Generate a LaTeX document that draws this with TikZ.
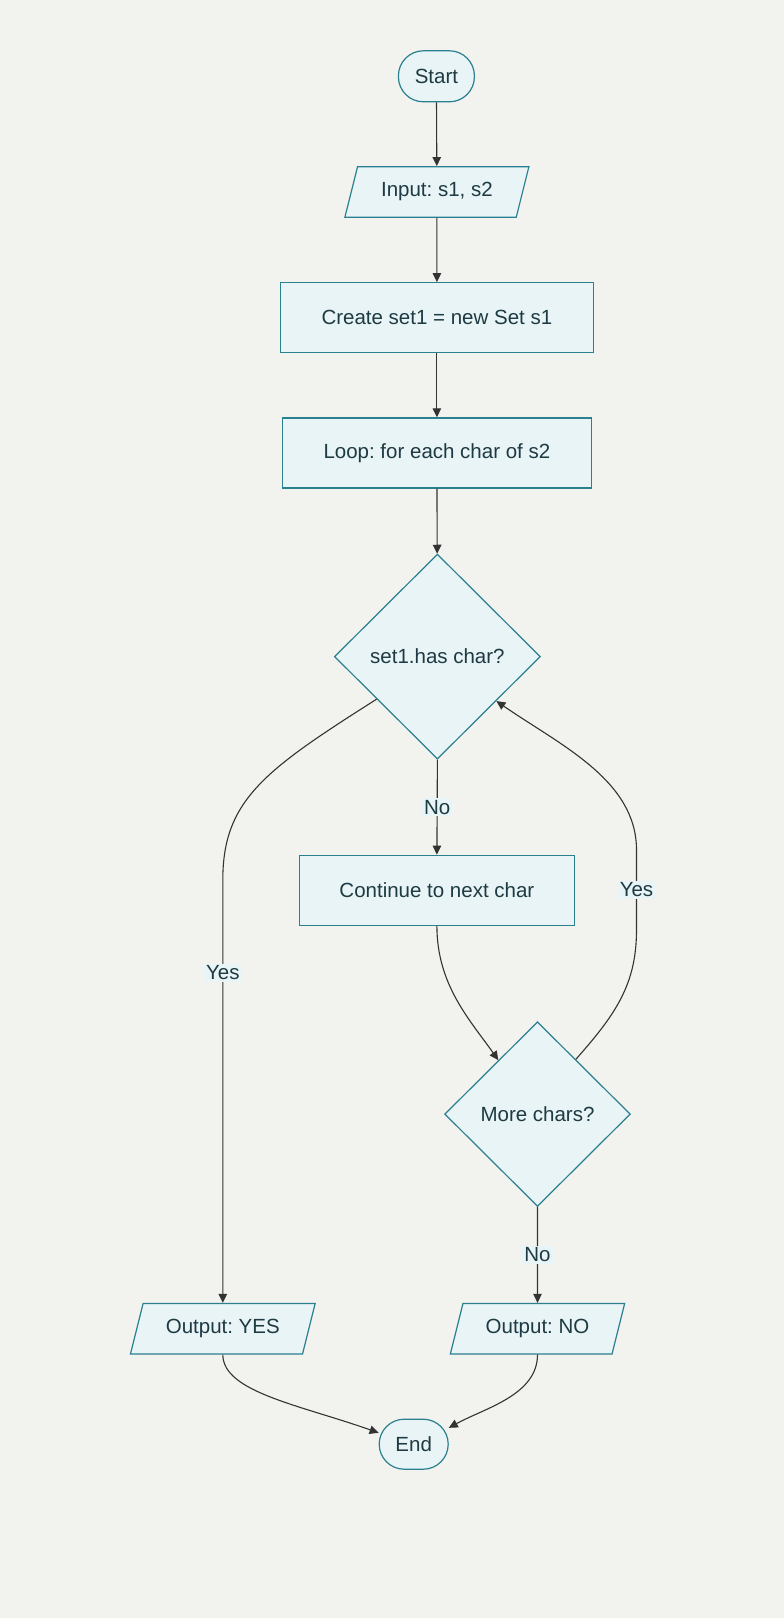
\documentclass[tikz,border=0pt]{standalone}
\usepackage{fontspec}
\setmainfont{Liberation Sans}
\frenchspacing
\usetikzlibrary{shapes.geometric,arrows.meta}

\definecolor{bgcol}{HTML}{F2F2EE}
\definecolor{boxfill}{HTML}{E8F4F6}
\definecolor{boxline}{HTML}{2B8090}
\definecolor{txtcol}{HTML}{1E3A42}
\definecolor{linecol}{HTML}{333333}

\begin{document}
\begin{tikzpicture}[x=1pt,y=-1pt,
    every node/.style={font=\fontsize{20.5}{24}\selectfont, text=txtcol},
    box/.style={draw=boxline, fill=boxfill, line width=1.2pt, minimum height=70pt},
    term/.style={box, rounded corners=25pt, minimum height=51pt},
    inout/.style={box, trapezium, trapezium left angle=63.4, trapezium right angle=116.6,
        trapezium stretches body, minimum height=50.5pt},
    decide/.style={box, diamond, aspect=1, inner sep=0pt},
    flow/.style={draw=linecol, line width=1.1pt, -{Triangle[length=9pt,width=8.5pt]}},
    elabel/.style={fill=boxfill, inner sep=2pt}]

    % Background
    \fill[bgcol] (0,0) rectangle (784,1618);

    % Draw nodes
    \node[term, minimum width=76pt] (start) at (436.4,76.3) {Start};
    \node[inout, minimum width=184pt] (input) at (436.9,191.9) {Input: s1, s2};
    \node[box, minimum width=312.6pt] (create) at (436.9,317.7) {Create set1 = new Set s1};
    \node[box, minimum width=308.4pt] (loop) at (436.9,452.9) {Loop: for each char of s2};
    \node[decide, minimum width=206pt, minimum height=205pt] (check) at (437.4,656.6) {set1.has char?};
    \node[box, minimum width=275.4pt] (cont) at (436.9,890.3) {Continue to next char};
    \node[decide, minimum width=185.7pt, minimum height=184.7pt] (more) at (537.5,1114.1) {More chars?};
    \node[inout, minimum width=184.7pt] (outyes) at (222.8,1328.7) {Output: YES};
    \node[inout, minimum width=174.3pt] (outno) at (537.5,1328.7) {Output: NO};
    \node[term, minimum width=69pt, minimum height=50pt] (end) at (413.7,1444.2) {End};

    % Draw connectors
    \draw[flow] (start) -- (input);
    \draw[flow] (input) -- (create);
    \draw[flow] (create) -- (loop);
    \draw[flow] (loop) -- (check);
    \draw[flow] (check.south) -- node[elabel] (lno) {No} (cont.north);
    \draw[flow] (check.215) .. controls (265,770) and (222.8,800) .. (222.8,880)
        -- node[elabel, pos=0.22] (lyes) {Yes} (outyes.north);
    \draw[flow] (cont.south) .. controls (436.9,985) and (470,1020) .. (more.126);
    \draw[flow] (more.55) .. controls (615,1015) and (636.5,985) .. (636.5,930)
        -- node[elabel] (lagain) {Yes} (636.5,850)
        .. controls (636.5,780) and (560,745) .. (check.-37);
    \draw[flow] (more.south) -- node[elabel] (lno2) {No} (outno.north);
    \draw[flow] (outyes.south) .. controls (222.8,1392) and (300,1405) .. (end.162);
    \draw[flow] (outno.south) .. controls (537.5,1395) and (485,1408) .. (end.25);
\end{tikzpicture}
\end{document}
